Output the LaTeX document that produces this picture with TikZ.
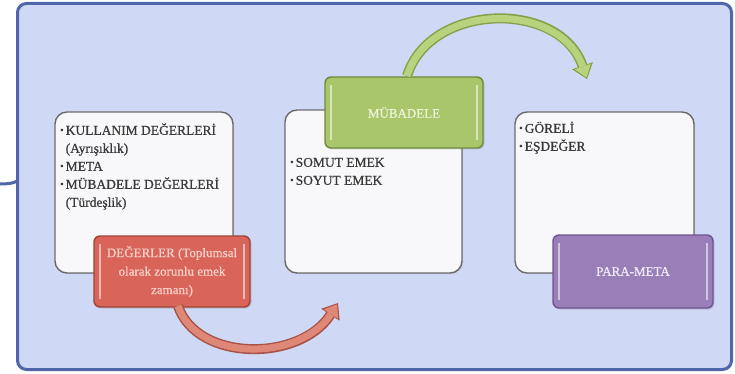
\documentclass[tikz,border=0pt]{standalone}
\usepackage{fontspec}
\setmainfont{Liberation Serif}
\newfontfamily\heavyserif[FakeBold=0.7]{Liberation Serif}
\usetikzlibrary{arrows.meta,shadows}
\definecolor{framefill}{HTML}{CFD8F5}
\definecolor{frameline}{HTML}{4F66AA}
\definecolor{boxfill}{HTML}{F8F8FB}
\definecolor{boxline}{HTML}{6B6B6B}
\definecolor{txt}{HTML}{3A3A3A}
\definecolor{redfill}{HTML}{D9645A}
\definecolor{redline}{HTML}{A04438}
\definecolor{redtxt}{HTML}{F6D2CA}
\definecolor{greenfill}{HTML}{A9C66A}
\definecolor{greenline}{HTML}{6F8A3C}
\definecolor{greentxt}{HTML}{EEF4DC}
\definecolor{purplefill}{HTML}{9A7EB8}
\definecolor{purpleline}{HTML}{6E5490}
\definecolor{purpletxt}{HTML}{F0EAF6}
\definecolor{redarrow}{HTML}{E08878}
\definecolor{redarrowline}{HTML}{A85248}
\definecolor{greenarrow}{HTML}{B9D27E}
\definecolor{greenarrowline}{HTML}{86A048}
\tikzset{
  whitebox/.style={draw=boxline, fill=boxfill, line width=1.4pt, rounded corners=12pt,
    inner sep=0pt, outer sep=0pt, drop shadow={opacity=0.25, shadow xshift=1pt, shadow yshift=-1pt}},
  glossy/.style n args={3}{draw=#2, fill=#1, text=#3, line width=1.4pt, rounded corners=6pt,
    inner sep=0pt, outer sep=0pt, align=center, font=\heavyserif\fontsize{13}{18.5}\selectfont,
    drop shadow={opacity=0.3, shadow xshift=1.5pt, shadow yshift=-1.5pt},
    path picture={
      \draw[white, opacity=0.55, line width=1.3pt]
        ([xshift=6pt,yshift=-8pt]path picture bounding box.north west) --
        ([xshift=6pt,yshift=8pt]path picture bounding box.south west);
      \draw[white, opacity=0.55, line width=1.3pt]
        ([xshift=-6pt,yshift=-8pt]path picture bounding box.north east) --
        ([xshift=-6pt,yshift=8pt]path picture bounding box.south east);
    }},
  listtext/.style={anchor=north west, inner sep=0pt, text=txt, align=left,
    font=\heavyserif\fontsize{13.5}{18}\selectfont},
}
\newcommand{\bul}{{\fontsize{10}{10}\selectfont\raisebox{1.5pt}{•}}}
\begin{document}
\begin{tikzpicture}[x=1pt, y=-1pt]
\useasboundingbox (0,0) rectangle (735,374);
% frame
\node[draw=frameline, fill=framefill, line width=3pt, rounded corners=9pt,
  minimum width=714pt, minimum height=366pt, inner sep=0pt, outer sep=0pt] (frame) at (374.5,186.5) {};
\coordinate (leftend) at (0,184);
\draw[frameline, line width=3pt] (leftend) .. controls (12,184) and (16,182) .. ([yshift=6pt]frame.west);

% box 1
\node[whitebox, minimum width=178pt, minimum height=161pt] (b1) at (144,192.5) {};
\node[listtext] (t1) at ([xshift=5pt,yshift=-10pt]b1.north west)
  {\begin{tabular}{@{}l@{\hspace{2pt}}l@{}}
   \bul & KULLANIM DEĞERLERİ\\
        & (Ayrışıklık)\\
   \bul & META\\
   \bul & MÜBADELE DEĞERLERİ\\
        & (Türdeşlik)
   \end{tabular}};
\node[glossy={redfill}{redline}{redtxt}, minimum width=156pt, minimum height=71pt] (red) at (172,271.5)
  {DEĞERLER (Toplumsal\\olarak zorunlu emek\\zamanı)};

% box 2
\node[whitebox, minimum width=177pt, minimum height=163pt] (b2) at (373.5,191.5) {};
\node[listtext] (t2) at ([xshift=5pt,yshift=-44pt]b2.north west)
  {\begin{tabular}{@{}l@{\hspace{2pt}}l@{}}
   \bul & SOMUT EMEK\\
   \bul & SOYUT EMEK
   \end{tabular}};
\node[glossy={greenfill}{greenline}{greentxt}, minimum width=158pt, minimum height=71pt] (green) at (404,112.5)
  {MÜBADELE};

% box 3
\node[whitebox, minimum width=179pt, minimum height=161pt] (b3) at (604.5,192.5) {};
\node[listtext] (t3) at ([xshift=4pt,yshift=-8pt]b3.north west)
  {\begin{tabular}{@{}l@{\hspace{2pt}}l@{}}
   \bul & GÖRELİ\\
   \bul & EŞDEĞER
   \end{tabular}};
\node[glossy={purplefill}{purpleline}{purpletxt}, minimum width=160pt, minimum height=73pt] (purple) at (633,271.5)
  {PARA-META};

% red arrow
\coordinate (redtip) at (338,303);
\draw[redarrowline, line width=10pt, -{Triangle[length=14pt,width=22pt,line width=0pt]}]
  ([xshift=6pt,yshift=1pt]red.south) .. controls (197,362) and (300,362) .. (redtip);
\draw[redarrow, line width=7pt, shorten >=1.6pt, -{Triangle[length=11.5pt,width=17pt,line width=0pt]}]
  ([xshift=6pt,yshift=1pt]red.south) .. controls (197,362) and (300,362) .. (redtip);

% green arrow
\coordinate (greentip) at (587,79);
\draw[greenarrowline, line width=10pt, -{Triangle[length=14pt,width=22pt,line width=0pt]}]
  ([xshift=3pt,yshift=1pt]green.north) .. controls (430,2) and (560,0) .. (greentip);
\draw[greenarrow, line width=7pt, shorten >=1.6pt, -{Triangle[length=11.5pt,width=17pt,line width=0pt]}]
  ([xshift=3pt,yshift=1pt]green.north) .. controls (430,2) and (560,0) .. (greentip);
\end{tikzpicture}
\end{document}
